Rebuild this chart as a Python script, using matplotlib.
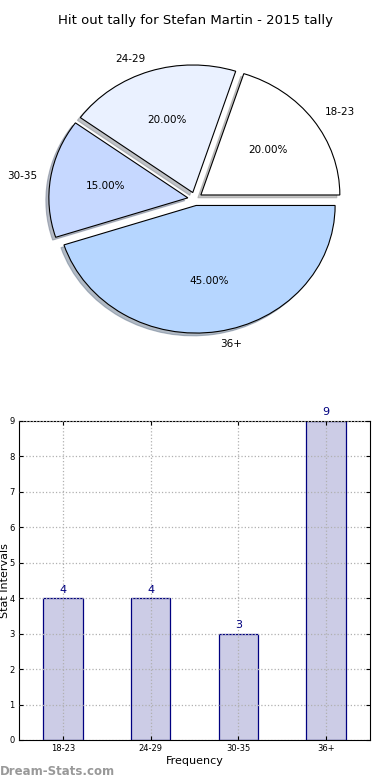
import matplotlib
matplotlib.use('Agg')
import matplotlib.pyplot as plt
import numpy as np

groups = ['18-23', '24-29', '30-35', '36+']
counts = [4, 4, 3, 9]
pie_colors = ['#ffffff', '#eaf1ff', '#c6d8ff', '#b6d6ff']
title = 'Hit out tally for Stefan Martin - 2015 tally'

fig = plt.figure(figsize=(3.9, 7.8), dpi=100)

# pie on top
ax1 = fig.add_axes([0.036, 0.532, 0.928, 0.426])
wedges, texts, autotexts = ax1.pie(counts, labels=groups, colors=pie_colors,
                                   explode=[0.05] * 4, autopct='%1.2f%%',
                                   shadow={'ox': -0.015, 'oy': -0.015, 'shade': 0.45},
                                   startangle=0, radius=0.96,
                                   wedgeprops={'linewidth': 0.8, 'edgecolor': 'black'},
                                   textprops={'fontsize': 7.5})
ax1.set_aspect('auto')
ax1.set_xlim(-1.25, 1.25)
ax1.set_ylim(-1.25, 1.25)
ax1.set_title(title, fontsize=9.5, pad=6)

# bars below
ax2 = fig.add_axes([0.0487, 0.0513, 0.9, 0.409])
x = np.arange(len(groups))
bars = ax2.bar(x, counts, width=0.45, color='#ccccE6', edgecolor='#000080', linewidth=0.9, zorder=2)
for xi, c in zip(x, counts):
    ax2.text(xi, c + 0.1, str(c), ha='center', va='bottom', fontsize=8, color='#000080')
ax2.set_xlim(-0.5, 3.5)
ax2.set_ylim(0, 9)
ax2.set_xticks(x)
ax2.set_xticklabels(groups, fontsize=6)
ax2.set_yticks(range(0, 10))
ax2.tick_params(axis='y', labelsize=6)
ax2.tick_params(direction='in', length=3, top=True, right=True, pad=3)
ax2.grid(True, linestyle=':', color='#b0b0b0', linewidth=0.9, zorder=3)
ax2.set_axisbelow(False)
ax2.set_xlabel('Frequency', fontsize=8, labelpad=2)
ax2.set_ylabel('Stat Intervals', fontsize=8)
ax2.yaxis.set_label_coords(-0.027, 0.5)

fig.text(0.0, 0.003, 'Dream-Stats.com', fontsize=8.5, color='#999999',
         fontweight='bold', ha='left', va='bottom')

fig.savefig('out.png', dpi=100)
